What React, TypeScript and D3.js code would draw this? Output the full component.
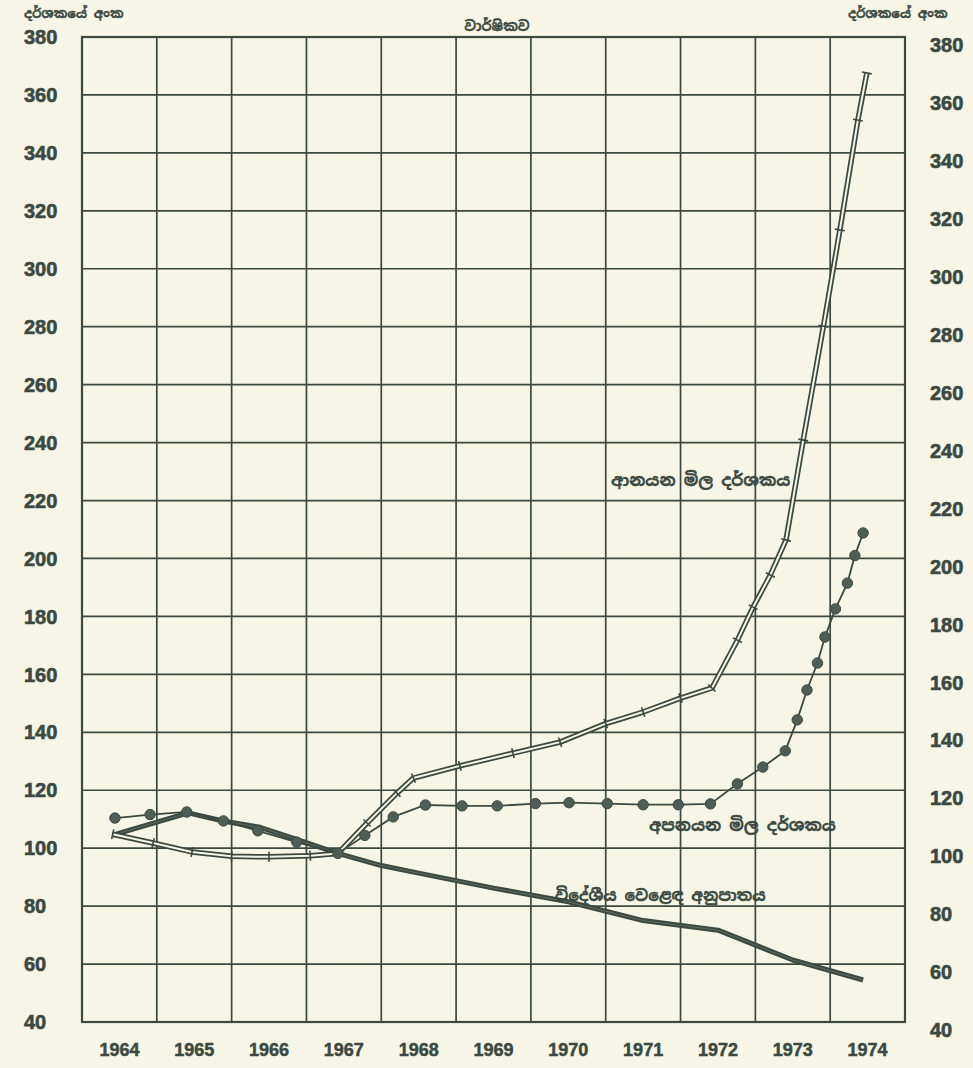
import React from 'react';
import * as d3 from 'd3';

// year positions (decimal) and index values
const yearLabels = ['1964', '1965', '1966', '1967', '1968', '1969', '1970', '1971', '1972', '1973', '1974'];
const yTicks = [40, 60, 80, 100, 120, 140, 160, 180, 200, 220, 240, 260, 280, 300, 320, 340, 360, 380];

// ආනයන මිල දර්ශකය (import price index)
const importYears = [1963.91, 1964.45, 1964.97, 1965.5, 1966.0, 1966.55, 1966.92, 1967.31, 1967.71, 1967.93, 1968.55, 1969.26, 1969.89, 1970.5, 1971.0, 1971.5, 1971.92, 1972.26, 1972.47, 1972.7, 1972.91, 1973.14, 1973.41, 1973.63, 1973.87, 1973.99];
const importValues = [104.8, 101.8, 98.7, 97.2, 97.0, 97.4, 98.2, 108.7, 119, 124.2, 128.4, 132.8, 136.6, 143, 147, 151.8, 155.3, 171.8, 183.2, 194.3, 206.4, 240.9, 280.2, 313.4, 351.3, 367.6];

// අපනයන මිල දර්ශකය (export price index)
const exportYears = [1963.94, 1964.41, 1964.9, 1965.39, 1965.85, 1966.37, 1966.92, 1967.28, 1967.66, 1968.09, 1968.58, 1969.05, 1969.56, 1970.01, 1970.52, 1971.0, 1971.47, 1971.9, 1972.26, 1972.6, 1972.9, 1973.06, 1973.19, 1973.33, 1973.43, 1973.57, 1973.73, 1973.83, 1973.94];
const exportValues = [110.4, 111.6, 112.5, 109.4, 106, 102.1, 98.2, 104.4, 110.8, 114.9, 114.6, 114.6, 115.4, 115.7, 115.4, 115, 115, 115.3, 122.2, 128, 133.6, 144.3, 154.6, 163.9, 172.9, 182.6, 191.5, 201, 208.8];

// විදේශීය වෙළෙඳ අනුපාතය (terms of trade)
const totYears = [1963.91, 1964.92, 1965.4, 1965.88, 1966.37, 1966.92, 1967.5, 1968.0, 1969.0, 1970.0, 1971.0, 1972.0, 1973.0, 1973.94];
const totValues = [104.5, 112.2, 109.3, 107.2, 103, 98.2, 94, 91.4, 86.2, 81.5, 75, 71.7, 61.4, 54.5];

const W = 973;
const H = 1068;
const paper = '#f6f5e6';
const ink = '#3b4942';
const numFont = '"Liberation Sans", Arial, sans-serif';
const sinFont = '"Noto Sans Sinhala", "Iskoola Pota", "LKLUG", sans-serif';

const App = () => {
  const x = d3.scaleLinear().domain([1963.5, 1974.5]).range([82, 905]);
  const y = d3.scaleLinear().domain([40, 380]).range([1022, 37]);

  const toPts = (xs: number[], vs: number[]) => xs.map((d, i) => [x(d), y(vs[i])] as [number, number]);
  const line = d3.line<[number, number]>().x(d => d[0]).y(d => d[1]);

  const impPts = toPts(importYears, importValues);
  const expPts = toPts(exportYears, exportValues);
  const totPts = toPts(totYears, totValues);

  // little cross bars on the import double line
  const impTicks = impPts.map((p, i) => {
    const a = impPts[Math.max(0, i - 1)];
    const b = impPts[Math.min(impPts.length - 1, i + 1)];
    const dx = b[0] - a[0];
    const dy = b[1] - a[1];
    const len = Math.sqrt(dx * dx + dy * dy) || 1;
    const nx = -dy / len;
    const ny = dx / len;
    return { x1: p[0] - nx * 5, y1: p[1] - ny * 5, x2: p[0] + nx * 5, y2: p[1] + ny * 5 };
  });

  const verticals = d3.range(1963.5, 1975, 1);

  return (
    <svg width={W} height={H} style={{ position: 'absolute', left: 0, top: 0, display: 'block' }}>
      <rect width={W} height={H} fill={paper} />

      {/* grid */}
      <g stroke={ink} strokeWidth={1.7}>
        {yTicks.map(t => (
          <line key={'h' + t} x1={82} x2={905} y1={y(t)} y2={y(t)} />
        ))}
        {verticals.map(v => (
          <line key={'v' + v} x1={x(v)} x2={x(v)} y1={y(380)} y2={y(40)} />
        ))}
      </g>
      <rect x={82} y={y(380)} width={905 - 82} height={y(40) - y(380)} fill="none" stroke={ink} strokeWidth={2.2} />

      {/* terms of trade */}
      <path d={line(totPts) || ''} fill="none" stroke={ink} strokeWidth={5} strokeLinejoin="round" />
      <path d={line(totPts) || ''} fill="none" stroke="#5e6b63" strokeWidth={1} strokeLinejoin="round" />

      {/* import price index: double line with cross bars */}
      <path d={line(impPts) || ''} fill="none" stroke={ink} strokeWidth={5.5} strokeLinejoin="round" />
      <path d={line(impPts) || ''} fill="none" stroke={paper} strokeWidth={2} strokeLinejoin="round" />
      <g stroke={ink} strokeWidth={1.6}>
        {impTicks.map((t, i) => (
          <line key={i} {...t} />
        ))}
      </g>

      {/* export price index: line with dots */}
      <path d={line(expPts) || ''} fill="none" stroke={ink} strokeWidth={1.8} />
      <g fill="#4e5d55" stroke={ink} strokeWidth={1}>
        {expPts.map((p, i) => (
          <circle key={i} cx={p[0]} cy={p[1]} r={5.2} />
        ))}
      </g>

      {/* axis labels, both sides */}
      <g fill={ink} stroke={ink} strokeWidth={0.6} fontFamily={numFont} fontWeight="bold" fontSize={20}>
        {yTicks.map(t => (
          <text key={'l' + t} x={24} y={y(t)} dy="0.36em">{t}</text>
        ))}
        {yTicks.map(t => (
          <text key={'r' + t} x={930} y={y(t) + 8} dy="0.36em">{t}</text>
        ))}
      </g>

      {/* year labels */}
      <g fill={ink} stroke={ink} strokeWidth={0.5} fontFamily={numFont} fontWeight="bold" fontSize={18} textAnchor="middle">
        {yearLabels.map(l => (
          <text key={l} x={x(+l)} y={1056}>{l}</text>
        ))}
      </g>

      {/* headings */}
      <g fill={ink} stroke={ink} strokeWidth={0.3} fontFamily={sinFont} fontWeight="bold" fontSize={13}>
        <text x={24} y={18}>දර්ශකයේ අංක</text>
        <text x={848} y={18}>දර්ශකයේ අංක</text>
        <text x={497} y={31} fontSize={14} textAnchor="middle">වාර්ෂිකව</text>
      </g>

      {/* series labels */}
      <g fill={ink} stroke={ink} strokeWidth={0.3} fontFamily={sinFont} fontWeight="bold" fontSize={16.5}>
        <text x={611} y={486}>ආනයන මිල දර්ශකය</text>
        <text x={649} y={831}>අපනයන මිල දර්ශකය</text>
        <text x={555} y={901} fontSize={15.7}>විදේශීය වෙළෙඳ අනුපාතය</text>
      </g>
    </svg>
  );
};

export default App;
